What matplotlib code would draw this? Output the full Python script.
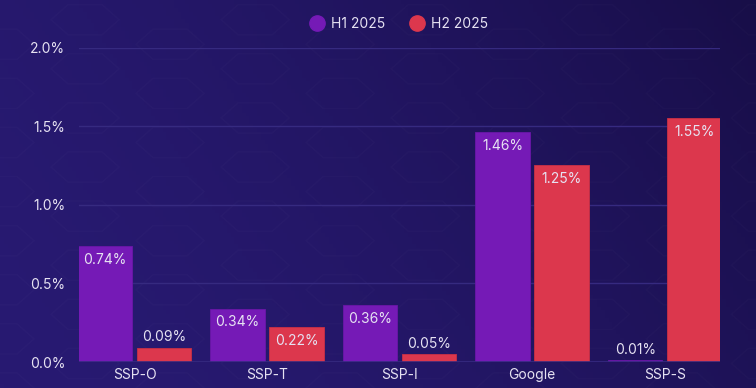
import numpy as np
import matplotlib
matplotlib.use("Agg")
import matplotlib.pyplot as plt
from matplotlib.patches import RegularPolygon
from matplotlib.lines import Line2D

categories = ["SSP-O", "SSP-T", "SSP-I", "Google", "SSP-S"]
series_names = ["H1 2025", "H2 2025"]
h1_values = [0.74, 0.34, 0.36, 1.46, 0.01]
h2_values = [0.09, 0.22, 0.05, 1.25, 1.55]
y_ticks = [0.0, 0.5, 1.0, 1.5, 2.0]
y_tick_labels = ["0.0%", "0.5%", "1.0%", "1.5%", "2.0%"]

plt.rcParams['font.family'] = ['Inter', 'DejaVu Sans']

C_H1 = "#751ab6"
C_H2 = "#dc374d"
TXT = "#e6e2f2"
GRID = "#362a80"

fig = plt.figure(figsize=(7.56, 3.88), dpi=100)

# background gradient
bg = fig.add_axes([0, 0, 1, 1], zorder=-10)
bg.set_axis_off()
nx, ny = 200, 100
xx, yy = np.meshgrid(np.linspace(0, 1, nx), np.linspace(0, 1, ny))
t = np.clip(0.75 * xx + 0.25 * (1 - yy), 0, 1) ** 1.6
c0 = np.array([40, 26, 114]) / 255
c1 = np.array([24, 14, 72]) / 255
img = c0[None, None, :] * (1 - t[..., None]) + c1[None, None, :] * t[..., None]
bg.imshow(img, extent=[0, 1, 0, 1], origin="upper", aspect="auto")
bg.set_xlim(0, 1)
bg.set_ylim(0, 1)
# faint hexagon pattern
r = 0.075
for i in range(-1, 10):
    for j in range(-1, 8):
        cx = i * r * 1.5 * 1.0
        cy = j * r * np.sqrt(3) * 756 / 388 * 0.5 + (i % 2) * r * np.sqrt(3) * 756 / 388 * 0.25
        hx = RegularPolygon((cx, cy), 6, radius=r * 0.6, orientation=np.pi / 6,
                            fill=False, edgecolor=(1, 1, 1, 0.015), lw=1.2,
                            transform=bg.transAxes)
        bg.add_patch(hx)

ax = fig.add_axes([79 / 756, 1 - 362 / 388, (720 - 79) / 756, (362 - 47.5) / 388])
ax.set_facecolor("none")

x = np.arange(len(categories))
w = 0.41
off = 0.2225
b1 = ax.bar(x - off, h1_values, w, color=C_H1, edgecolor="#6a16a8", lw=0.6, zorder=3)
b2 = ax.bar(x + off, h2_values, w, color=C_H2, edgecolor="#c93045", lw=0.6, zorder=3)

for bars, vals in ((b1, h1_values), (b2, h2_values)):
    for rect, v in zip(bars, vals):
        cx = rect.get_x() + rect.get_width() / 2
        if v > 0.15:
            ax.annotate(f"{v:.2f}%", (cx, v), xytext=(0, -10), textcoords="offset points",
                        ha="center", va="center", color=TXT, fontsize=10, zorder=5)
        else:
            ax.annotate(f"{v:.2f}%", (cx, v), xytext=(0, 7.5), textcoords="offset points",
                        ha="center", va="center", color=TXT, fontsize=10, zorder=5)

ax.set_xlim(-0.42, 4.418)
ax.set_ylim(0, 2.0)
ax.set_yticks(y_ticks)
ax.set_yticklabels(y_tick_labels)
ax.set_xticks(x)
ax.set_xticklabels(categories)
ax.tick_params(axis="both", length=0, colors=TXT, labelsize=10)
ax.tick_params(axis="y", pad=10)
ax.tick_params(axis="x", pad=4)
ax.grid(axis="y", color=GRID, lw=1, zorder=0)
for s in ax.spines.values():
    s.set_visible(False)
ax.axhline(0, color=GRID, lw=1.2, zorder=4)

handles = [Line2D([], [], marker="o", ls="none", markersize=11, markerfacecolor=C_H1, markeredgecolor=C_H1),
           Line2D([], [], marker="o", ls="none", markersize=11, markerfacecolor=C_H2, markeredgecolor=C_H2)]
leg = fig.legend(handles, series_names, loc="center", bbox_to_anchor=(0.528, 1 - 24 / 388), ncol=2,
                 frameon=False, fontsize=10, labelcolor=TXT, handletextpad=0.5, columnspacing=1.8,
                 handlelength=1.0)

fig.savefig("out.png", dpi=100)
